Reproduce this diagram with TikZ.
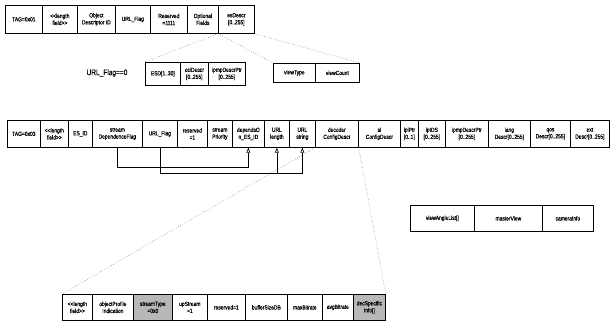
\documentclass[tikz,border=0pt]{standalone}
\usepackage{fontspec}
\setmainfont{Liberation Sans}
\newfontfamily\narrowfont[FakeStretch=0.82,FakeBold=0.6]{Liberation Sans}
\usetikzlibrary{arrows.meta,calc}
\tikzset{
  fld/.style={draw, line width=0.7pt, inner sep=0pt, align=center, anchor=north west,
    font=\narrowfont\fontsize{6}{7}\selectfont},
  shfld/.style={fld, fill=black!28},
  conn/.style={line width=0.7pt},
  tip/.style={-{Triangle[open,length=5pt,width=4pt]}},
  guide/.style={line width=0.5pt, dotted, black!65}
}
\newcommand\fieldbox[7][fld]{\node[#1, minimum width=#5pt, minimum height=#6pt] (#2) at (#3,#4) {#7};}
\begin{document}
\begin{tikzpicture}[x=1pt,y=-1pt]
\useasboundingbox (0,0) rectangle (612,321);
% row 1
\fieldbox{t1}{5}{5}{37}{28}{TAG=0x01}
\fieldbox{l1}{42}{5}{35}{28}{<<length\\field>>}
\fieldbox{od}{77}{5}{38}{28}{Object\\Descriptor ID}
\fieldbox{uf1}{115}{5}{35}{28}{URL\_Flag}
\fieldbox{rs1}{150}{5}{37}{28}{Reserved\\=1111}
\fieldbox{of}{187}{5}{31}{28}{Optional\\Fields}
\fieldbox{es}{218}{5}{36}{28}{esDescr\\{[0..255]}}
% row 2
\node[font=\narrowfont\fontsize{8}{9}\selectfont] (cond) at (107,73) {URL\_Flag==0};
\fieldbox{esd}{145}{62}{35}{23}{ESD[1..30]}
\fieldbox{oci}{180}{62}{28}{23}{ociDescr\\{[0..255]}}
\fieldbox{ipmp2}{208}{62}{37}{23}{ipmpDescrPtr\\{[0..255]}}
\fieldbox{vt}{273}{63}{42}{19}{viewType}
\fieldbox{vc}{315}{63}{44}{19}{viewCount}
\draw[guide] (es.south west) -- (esd.north west);
\draw[guide] (es.south west) -- (vt.north west);
\draw[guide] (es.south east) -- (vc.north east);
% row 3
\fieldbox{t3}{7}{120}{33}{27}{TAG=0x03}
\fieldbox{l3}{40}{120}{28}{27}{<<length\\field>>}
\fieldbox{esid}{68}{120}{24}{27}{ES\_ID}
\fieldbox{sdf}{92}{120}{50}{27}{stream\\DependenceFlag}
\fieldbox{uf3}{142}{120}{35}{27}{URL\_Flag}
\fieldbox{rs3}{177}{120}{30}{27}{reserved\\=1}
\fieldbox{sp}{207}{120}{25}{27}{stream\\Priority}
\fieldbox{dep}{232}{120}{32}{27}{dependsO\\n\_ES\_ID}
\fieldbox{ul}{264}{120}{25}{27}{URL\\length}
\fieldbox{us}{289}{120}{26}{27}{URL\\string}
\fieldbox{dc}{315}{120}{43}{27}{decoder\\ConfigDescr}
\fieldbox{sl}{358}{120}{42}{27}{sl\\ConfigDescr}
\fieldbox{ipi}{400}{120}{18}{27}{ipiPtr\\{[0..1]}}
\fieldbox{ipids}{418}{120}{27}{27}{ipIDS\\{[0..255]}}
\fieldbox{ipmp3}{445}{120}{43}{27}{ipmpDescrPtr\\{[0..255]}}
\fieldbox{lang}{488}{120}{42}{27}{lang\\Descr[0..255]}
\fieldbox{qos}{530}{120}{40}{27}{qos\\Descr[0..255]}
\fieldbox{ext}{570}{120}{39}{27}{ext\\Descr[0..255]}
% connectors
\draw[conn,tip] (sdf.south) -- ++(0,20) -| (dep.south);
\coordinate (br) at ($(uf3.south)+(0,26)$);
\draw[conn,tip] (uf3.south) -- (br) -| (us.south);
\draw[conn,tip] (br -| ul.south) -- (ul.south);
% view angle row
\fieldbox{val}{410}{205}{64}{26}{viewAngleList[]}
\fieldbox{mv}{474}{205}{68}{26}{masterView}
\fieldbox{ci}{542}{205}{51}{26}{cameraInfo}
% bottom row
\fieldbox{bl}{62}{294}{30}{26}{<<length\\field>>}
\fieldbox{opi}{92}{294}{41}{26}{objectProfile\\Indication}
\fieldbox[shfld]{st}{133}{294}{39}{26}{streamType\\=0x0}
\fieldbox{up}{172}{294}{35}{26}{upStream\\=1}
\fieldbox{rs4}{207}{294}{38}{26}{reserved=1}
\fieldbox{bsdb}{245}{294}{42}{26}{bufferSizeDB}
\fieldbox{maxb}{287}{294}{35}{26}{maxBitrate}
\fieldbox{avgb}{322}{294}{31}{26}{avgBitrate}
\fieldbox[shfld]{dsi}{353}{294}{32}{26}{decSpecific\\Info[]}
\draw[guide] (dc.south west) -- (bl.north west);
\draw[guide] (dc.south east) -- (dsi.north east);
\end{tikzpicture}
\end{document}
